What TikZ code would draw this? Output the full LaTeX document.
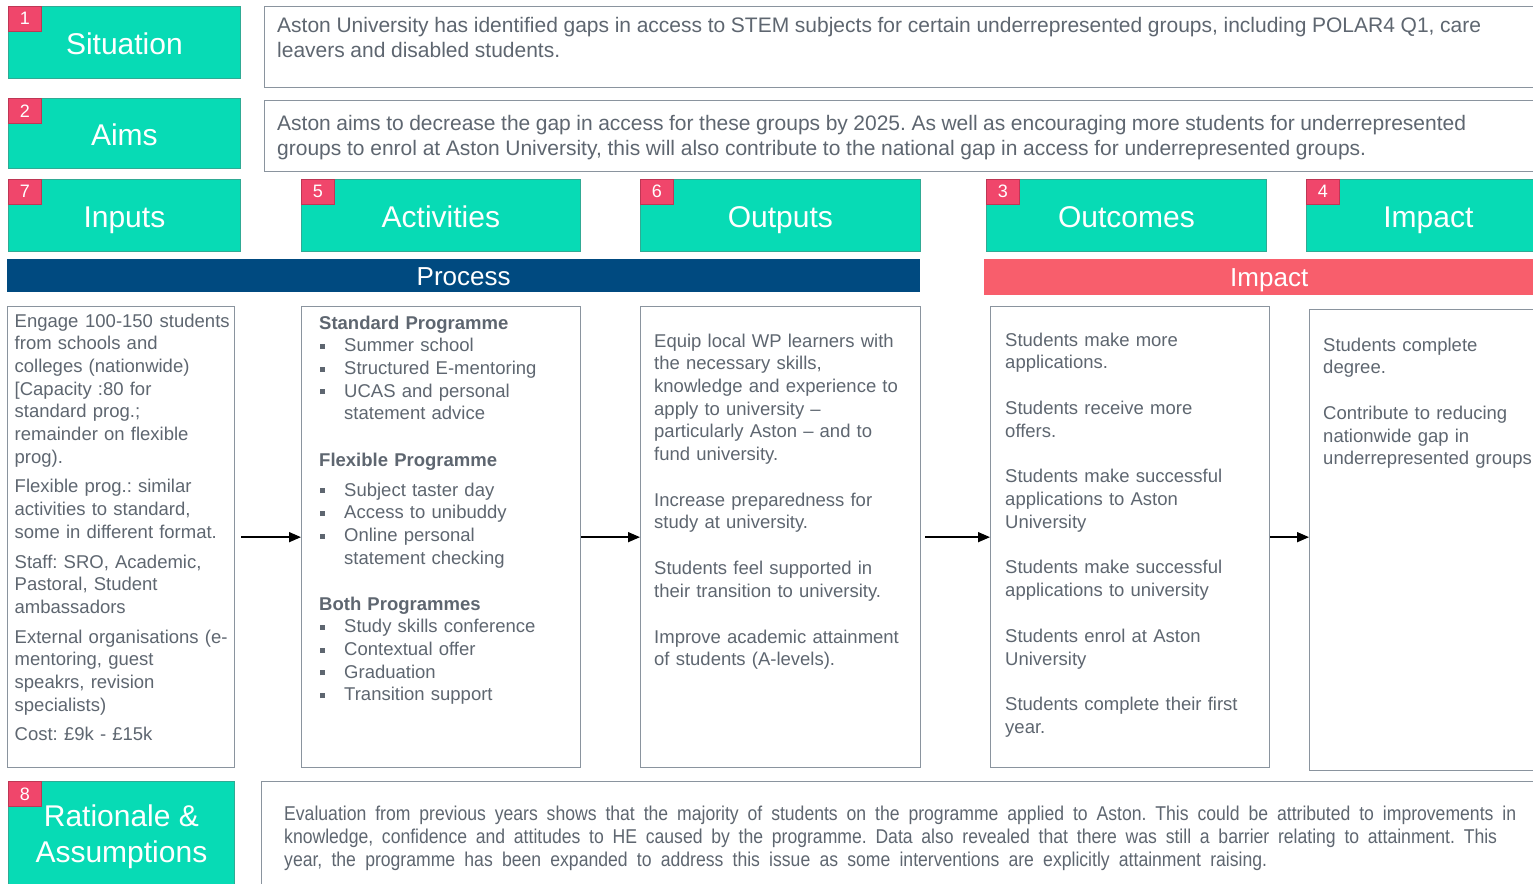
\documentclass[tikz,border=0pt]{standalone}
\usepackage{fontspec}
\setmainfont{Liberation Sans}
\newfontfamily\narrowsans[FakeStretch=0.88]{Liberation Sans}
\usetikzlibrary{arrows.meta}

\definecolor{hdrfill}{RGB}{7,219,181}
\definecolor{hdrline}{RGB}{48,170,148}
\definecolor{badgefill}{RGB}{240,70,107}
\definecolor{badgeline}{RGB}{190,55,85}
\definecolor{procfill}{RGB}{0,74,128}
\definecolor{impfill}{RGB}{248,94,108}
\definecolor{bodytext}{RGB}{94,102,112}
\definecolor{boxline}{RGB}{138,148,158}

\newcommand\fsz[2]{\fontsize{#1}{#2}\selectfont}
% square bullet followed by the item text, and the indent of a wrapped item line
\newcommand\actbul{\makebox[25pt][l]{\hspace{1pt}\rule[2.8pt]{5pt}{5pt}}}
\newcommand\acthang{\hspace*{25pt}}
% a fully justified line of the given width (font spaces, free to stretch)
\newcommand\jline[2]{\makebox[#1][s]{\spaceskip=0pt\xspaceskip=0pt #2}}

\begin{document}
\frenchspacing
\begin{tikzpicture}[x=1pt,y=-1pt,
  hdrbase/.style={draw=hdrline, fill=hdrfill, line width=0.8pt, text=white,
    font=\fsz{30}{36}, inner sep=0pt, anchor=north west, align=center},
  hdr/.style={hdrbase, text height=25pt, text depth=0pt},
  badge/.style={draw=badgeline, fill=badgefill, line width=0.6pt, text=white,
    font=\fsz{18}{20}, minimum width=33pt, minimum height=25pt,
    inner sep=0pt, anchor=north west},
  band/.style={text=white, font=\fsz{26}{30}, inner sep=0pt, anchor=north west,
    text height=19pt, text depth=0pt},
  cbox/.style={draw=boxline, line width=1.3pt, fill=white, inner sep=0pt,
    anchor=north west},
  body/.style={text=bodytext, font=\fsz{18.5}{22.7}, inner sep=0pt,
    anchor=base west, text width=300pt, align=left},
  wide/.style={text=bodytext, font=\fsz{21}{25}, inner sep=0pt,
    anchor=base west, text width=1300pt, align=left},
  note/.style={text=bodytext, font=\narrowsans\fsz{20}{23}, inner sep=0pt,
    anchor=base west, text width=1300pt, align=left},
  arr/.style={draw=black, line width=1.5pt, -{Triangle[length=12pt,width=10pt]}}
]
\useasboundingbox (0,0) rectangle (1533,883);

% ---- situation and aims ----
\node[cbox, minimum width=1300pt, minimum height=81pt] (sitbox) at (264,6) {};
\node[cbox, minimum width=1300pt, minimum height=71pt] (aimbox) at (264,100) {};
\node[wide] (sittxt) at (277,33)
  {\jline{1204pt}{Aston University has identified gaps in access to STEM subjects for certain underrepresented groups, including POLAR4 Q1, care}\\
   \jline{283pt}{leavers and disabled students.}};
\node[wide] (aimtxt) at (277,130)
  {\jline{1189pt}{Aston aims to decrease the gap in access for these groups by 2025. As well as encouraging more students for underrepresented}\\
   \jline{1089pt}{groups to enrol at Aston University, this will also contribute to the national gap in access for underrepresented groups.}};

\node[hdr, minimum width=232pt, minimum height=72pt] (sit) at (8,6) {Situation};
\node[badge] (b1) at (8,6) {1};
\node[hdr, minimum width=232pt, minimum height=70pt] (aims) at (8,98) {Aims};
\node[badge] (b2) at (8,98) {2};

% ---- column headers ----
\node[hdr, minimum width=232pt, minimum height=72pt] (inputs) at (8,179) {Inputs};
\node[badge] (b7) at (8,179) {7};
\node[hdr, minimum width=279pt, minimum height=72pt] (activities) at (301,179) {Activities};
\node[badge] (b5) at (301,179) {5};
\node[hdr, minimum width=280pt, minimum height=72pt] (outputs) at (640,179) {Outputs};
\node[badge] (b6) at (640,179) {6};
\node[hdr, minimum width=280pt, minimum height=72pt] (outcomes) at (986,179) {Outcomes};
\node[badge] (b3) at (986,179) {3};
\node[hdr, minimum width=244pt, minimum height=72pt] (impact) at (1306,179) {Impact};
\node[badge] (b4) at (1306,179) {4};

% ---- bands ----
\node[band, fill=procfill, minimum width=913pt, minimum height=33pt] (proc) at (7,259) {Process};
\node[band, fill=impfill, minimum width=570pt, minimum height=36pt] (impband) at (984,259) {Impact};

% ---- column boxes ----
\node[cbox, minimum width=227pt, minimum height=461pt] (inbox) at (7,306) {};
\node[cbox, minimum width=279pt, minimum height=461pt] (actbox) at (301,306) {};
\node[cbox, minimum width=280pt, minimum height=461pt] (outbox) at (640,306) {};
\node[cbox, minimum width=279pt, minimum height=461pt] (ocbox) at (990,306) {};
\node[cbox, minimum width=260pt, minimum height=461pt] (impbox) at (1309,309) {};

\node[body] (intxt) at (14.5,327)
  {\jline{215pt}{Engage 100-150 students}\\
   from schools and\\
   colleges (nationwide)\\
   {[}Capacity :80 for\\
   standard prog.;\\
   remainder on flexible\\
   prog).\\[7pt]
   Flexible prog.: similar\\
   activities to standard,\\
   some in different format.\\[7pt]
   Staff: SRO, Academic,\\
   Pastoral, Student\\
   ambassadors\\[7pt]
   External organisations (e-\\
   mentoring, guest\\
   speakrs, revision\\
   specialists)\\[7pt]
   Cost: £9k - £15k};

\node[body] (acttxt) at (319,329)
  {\textbf{Standard Programme}\\
   \actbul Summer school\\
   \actbul Structured E-mentoring\\
   \actbul UCAS and personal\\
   \acthang statement advice\\[23.5pt]
   \textbf{Flexible Programme}\\[7.3pt]
   \actbul Subject taster day\\
   \actbul Access to unibuddy\\
   \actbul Online personal\\
   \acthang statement checking\\[23.2pt]
   \textbf{Both Programmes}\\
   \actbul Study skills conference\\
   \actbul Contextual offer\\
   \actbul Graduation\\
   \actbul Transition support};

\node[body] (outtxt) at (654,347)
  {Equip local WP learners with\\
   the necessary skills,\\
   knowledge and experience to\\
   apply to university --\\
   particularly Aston -- and to\\
   fund university.\\[23pt]
   Increase preparedness for\\
   study at university.\\[23pt]
   Students feel supported in\\
   their transition to university.\\[23pt]
   Improve academic attainment\\
   of students (A-levels).};

\node[body] (octxt) at (1005,346)
  {Students make more\\
   applications.\\[23pt]
   Students receive more\\
   offers.\\[23pt]
   Students make successful\\
   applications to Aston\\
   University\\[23pt]
   Students make successful\\
   applications to university\\[23pt]
   Students enrol at Aston\\
   University\\[23pt]
   Students complete their first\\
   year.};

\node[body] (imptxt) at (1323,351)
  {Students complete\\
   degree.\\[23pt]
   Contribute to reducing\\
   nationwide gap in\\
   underrepresented groups};

% ---- rationale ----
\node[cbox, minimum width=1300pt, minimum height=120pt] (ratbox) at (261,781) {};
\node[hdrbase, minimum width=226pt, minimum height=110pt] (rationale) at (8,781) {Rationale \&\\Assumptions};
\node[badge] (b8) at (8,781) {8};
\node[note] (rattxt) at (284,820)
  {\jline{1232pt}{Evaluation from previous years shows that the majority of students on the programme applied to Aston. This could be attributed to improvements in}\\
   \jline{1213pt}{knowledge, confidence and attitudes to HE caused by the programme. Data also revealed that there was still a barrier relating to attainment. This}\\
   \jline{983pt}{year, the programme has been expanded to address this issue as some interventions are explicitly attainment raising.}};

% ---- flow between the columns ----
\draw[arr] ([xshift=6pt]inbox.east) -- (actbox.west);
\draw[arr] (actbox.east) -- (outbox.west);
\draw[arr] ([xshift=4pt]outbox.east) -- (ocbox.west);
\draw[arr] (ocbox.east) -- (ocbox.east -| impbox.west);
\end{tikzpicture}
\end{document}
